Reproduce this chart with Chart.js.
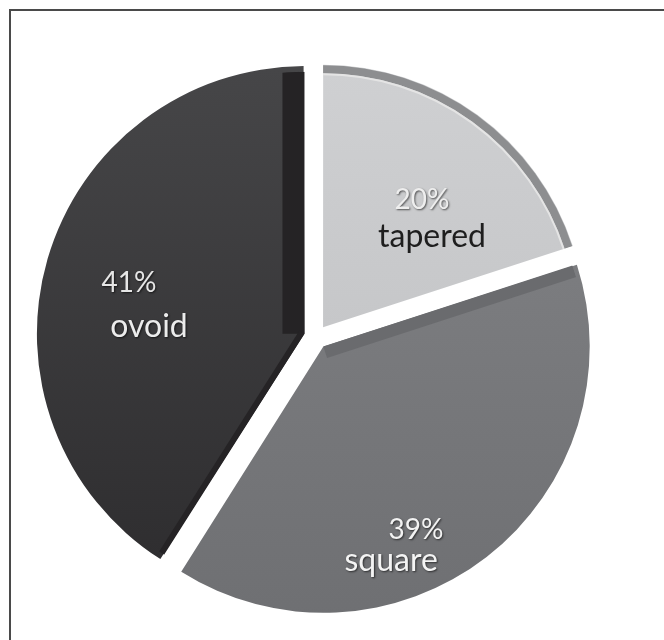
<!DOCTYPE html>
<html>
<head>
<meta charset="utf-8">
<script src="https://cdn.jsdelivr.net/npm/chart.js@4.4.1/dist/chart.umd.min.js"></script>
<style>
    html, body { margin: 0; padding: 0; background: #fff; }
    body { width: 664px; height: 640px; position: relative; overflow: hidden; }
    .frame {
        position: absolute; left: 9px; top: 9px; right: 0; bottom: 0;
        border-top: 2px solid #4a4a4a; border-left: 2px solid #4a4a4a;
    }
    .chart-box { position: absolute; left: 30px; top: 51px; width: 572px; height: 572px; }
</style>
</head>
<body>
<div class="frame"></div>
<div class="chart-box"><canvas id="pieChart"></canvas></div>

<script>
// ========== DATA ==========
const shapes = ['tapered', 'square', 'ovoid'];
const shares = [20, 39, 41];
const shareLabels = ['20%', '39%', '41%'];

// ========== STYLE ==========
const topColors = ['#d0d1d3', '#838487', '#474749'];
const bottomColors = ['#bcbdbf', '#6e6f72', '#2c2b2d'];
const pctColors = ['#eeeeee', '#f2f2f2', '#e6e6e6'];
const nameColors = ['#1e1e1e', '#f4f4f4', '#ececec'];
// label placement: fraction of radius, extra turn (deg), gap between lines, x shift of the % line
const labelSpots = [
    { frac: 0.633, turn: 8.4, gap: 37, pctShift: -10 },
    { frac: 0.846, turn: 18, gap: 31, pctShift: 25 },
    { frac: 0.649, turn: -5.4, gap: 44, pctShift: -20 }
];

function sliceFill(context) {
    const chart = context.chart;
    const area = chart.chartArea;
    if (!area) return topColors[context.dataIndex];
    const g = chart.ctx.createLinearGradient(0, area.top, 0, area.bottom);
    g.addColorStop(0, topColors[context.dataIndex]);
    g.addColorStop(1, bottomColors[context.dataIndex]);
    return g;
}

// rough 3D look: rim on tapered, side faces on square and ovoid
const shadePlugin = {
    id: 'shade',
    afterDatasetsDraw(chart) {
        const ctx = chart.ctx;
        const arcs = chart.getDatasetMeta(0).data;
        arcs.forEach((arc, i) => {
            const p = arc.getProps(['x', 'y', 'startAngle', 'endAngle', 'outerRadius']);
            const shift = (arc.options.offset || 0) / 4;
            const half = (p.startAngle + p.endAngle) / 2;
            ctx.save();
            ctx.translate(Math.cos(half) * shift, Math.sin(half) * shift);
            ctx.beginPath();
            ctx.moveTo(p.x, p.y);
            ctx.arc(p.x, p.y, p.outerRadius, p.startAngle, p.endAngle);
            ctx.closePath();
            ctx.clip();
            if (shapes[i] === 'tapered') {
                ctx.beginPath();
                ctx.arc(p.x, p.y, p.outerRadius, p.startAngle, p.endAngle);
                ctx.lineWidth = 16;
                ctx.strokeStyle = '#8d8e90';
                ctx.stroke();
                ctx.beginPath();
                ctx.arc(p.x, p.y, p.outerRadius - 9, p.startAngle, p.endAngle);
                ctx.lineWidth = 2;
                ctx.strokeStyle = '#e4e4e4';
                ctx.stroke();
            }
            if (shapes[i] === 'square') {
                ctx.beginPath();
                ctx.moveTo(p.x, p.y);
                ctx.lineTo(p.x + Math.cos(p.startAngle) * p.outerRadius, p.y + Math.sin(p.startAngle) * p.outerRadius);
                ctx.lineWidth = 24;
                ctx.strokeStyle = '#6a6b6e';
                ctx.stroke();
            }
            if (shapes[i] === 'ovoid') {
                ctx.beginPath();
                ctx.moveTo(p.x, p.y);
                ctx.lineTo(p.x + Math.cos(p.endAngle) * p.outerRadius, p.y + Math.sin(p.endAngle) * p.outerRadius);
                ctx.lineWidth = 44;
                ctx.strokeStyle = '#252325';
                ctx.stroke();
                ctx.beginPath();
                ctx.moveTo(p.x, p.y);
                ctx.lineTo(p.x + Math.cos(p.startAngle) * p.outerRadius, p.y + Math.sin(p.startAngle) * p.outerRadius);
                ctx.lineWidth = 12;
                ctx.stroke();
            }
            ctx.restore();
        });
    }
};

const labelPlugin = {
    id: 'sliceLabels',
    afterDraw(chart) {
        const ctx = chart.ctx;
        const arcs = chart.getDatasetMeta(0).data;
        arcs.forEach((arc, i) => {
            const p = arc.getProps(['x', 'y', 'startAngle', 'endAngle', 'outerRadius']);
            const spot = labelSpots[i];
            const mid = (p.startAngle + p.endAngle) / 2 + spot.turn * Math.PI / 180;
            const r = p.outerRadius * spot.frac;
            const cx = p.x + Math.cos(mid) * r;
            const cy = p.y + Math.sin(mid) * r;
            ctx.save();
            ctx.textAlign = 'center';
            ctx.textBaseline = 'middle';
            ctx.font = '28px Lato, "Open Sans", sans-serif';
            ctx.shadowColor = 'rgba(0,0,0,0.6)';
            ctx.shadowOffsetX = 1;
            ctx.shadowOffsetY = 1;
            ctx.shadowBlur = 2;
            ctx.fillStyle = pctColors[i];
            ctx.fillText(shareLabels[i], cx + spot.pctShift, cy - spot.gap / 2);
            if (i === 0) ctx.shadowColor = 'transparent';
            ctx.font = '32px Lato, "Open Sans", sans-serif';
            ctx.fillStyle = nameColors[i];
            ctx.fillText(shapes[i], cx, cy + spot.gap / 2);
            ctx.restore();
        });
    }
};

// ========== CHART ==========
function createPieChart() {
    const ctx = document.getElementById('pieChart');
    if (!ctx) return;

    window.pieChart = new Chart(ctx, {
        type: 'pie',
        data: {
            labels: shapes,
            datasets: [{
                data: shares,
                backgroundColor: sliceFill,
                borderWidth: 0,
                offset: 48
            }]
        },
        options: {
            responsive: true,
            maintainAspectRatio: false,
            animation: false,
            layout: { padding: 0 },
            plugins: {
                legend: { display: false },
                tooltip: { enabled: false }
            }
        },
        plugins: [shadePlugin, labelPlugin]
    });
}

createPieChart();
</script>
</body>
</html>
